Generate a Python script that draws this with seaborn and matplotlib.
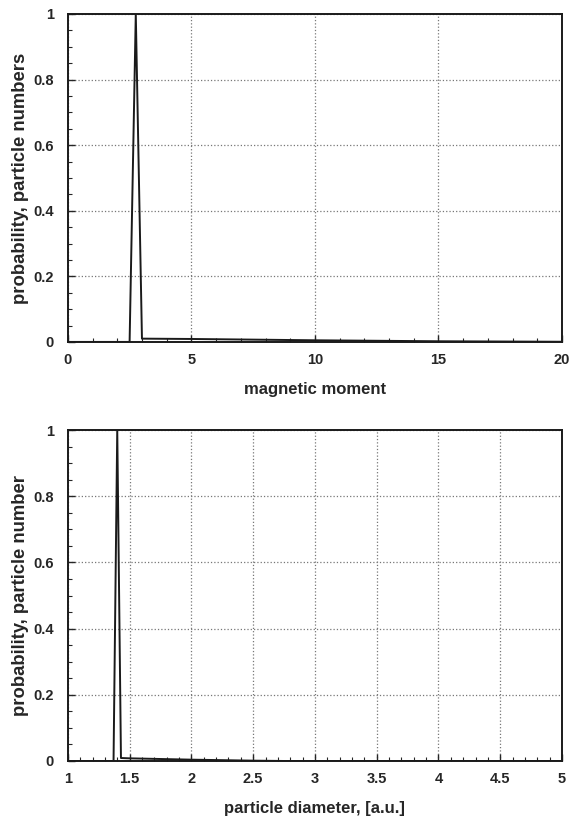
import matplotlib
matplotlib.use("Agg")
import matplotlib.pyplot as plt
import seaborn as sns
import pandas as pd
from matplotlib.ticker import MultipleLocator, FuncFormatter

# Data
moment_x = [0.0, 2.5, 2.75, 3.0, 5.0, 10.0, 15.0, 20.0]
moment_p = [0.0, 0.0, 1.0, 0.01, 0.009, 0.005, 0.002, 0.0005]

diam_x = [1.0, 1.37, 1.40, 1.43, 1.5, 2.0, 2.5, 2.75, 5.0]
diam_p = [0.0, 0.0, 1.0, 0.009, 0.008, 0.004, 0.001, 0.0, 0.0]

sns.set_theme(style="white")
plt.rcParams['font.family'] = ['Liberation Sans', 'DejaVu Sans']
plt.rcParams['font.weight'] = 'bold'

fig = plt.figure(figsize=(5.7, 8.18), dpi=100)
ax1 = fig.add_axes([0.119, 0.582, 0.867, 0.401])
ax2 = fig.add_axes([0.119, 0.0697, 0.867, 0.4046])

df1 = pd.DataFrame({"x": moment_x, "p": moment_p})
df2 = pd.DataFrame({"x": diam_x, "p": diam_p})

sns.lineplot(data=df1, x="x", y="p", ax=ax1, color="#1a1a1a", lw=1.4, sort=False)
sns.lineplot(data=df2, x="x", y="p", ax=ax2, color="#1a1a1a", lw=1.4, sort=False)

def style(ax, xlim, xmaj, xmin, xlabel, ylabel):
    ax.set_xlim(*xlim)
    ax.set_ylim(0, 1)
    ax.xaxis.set_major_locator(MultipleLocator(xmaj))
    ax.xaxis.set_minor_locator(MultipleLocator(xmin))
    ax.yaxis.set_major_locator(MultipleLocator(0.2))
    ax.yaxis.set_minor_locator(MultipleLocator(0.05))
    ax.grid(True, which='major', color='#777777', linestyle=':', linewidth=0.9)
    ax.tick_params(which='both', direction='in', bottom=True, left=True, top=False, right=False,
                   labelsize=10.5)
    ax.tick_params(axis='x', which='major', pad=8)
    ax.tick_params(axis='y', which='major', pad=10)
    ax.tick_params(which='major', length=5, width=1)
    ax.tick_params(which='minor', length=3, width=0.8)
    for s in ax.spines.values():
        s.set_color('#1a1a1a')
        s.set_linewidth(1.4)
    ax.set_xlabel(xlabel, fontsize=12, fontweight='bold', labelpad=11)
    ax.set_ylabel(ylabel, fontsize=13.3, fontweight='bold', labelpad=3)
    ax.yaxis.set_major_formatter(FuncFormatter(lambda v, p: f"{v:g}"))
    ax.xaxis.set_major_formatter(FuncFormatter(lambda v, p: f"{v:g}"))
    for lab in ax.get_xticklabels() + ax.get_yticklabels():
        lab.set_fontweight('bold')

style(ax1, (0, 20), 5, 1, "magnetic moment", "probability, particle numbers")
style(ax2, (1, 5), 0.5, 0.1, "particle diameter, [a.u.]", "probability, particle number")

fig.savefig("out.png", dpi=100)
